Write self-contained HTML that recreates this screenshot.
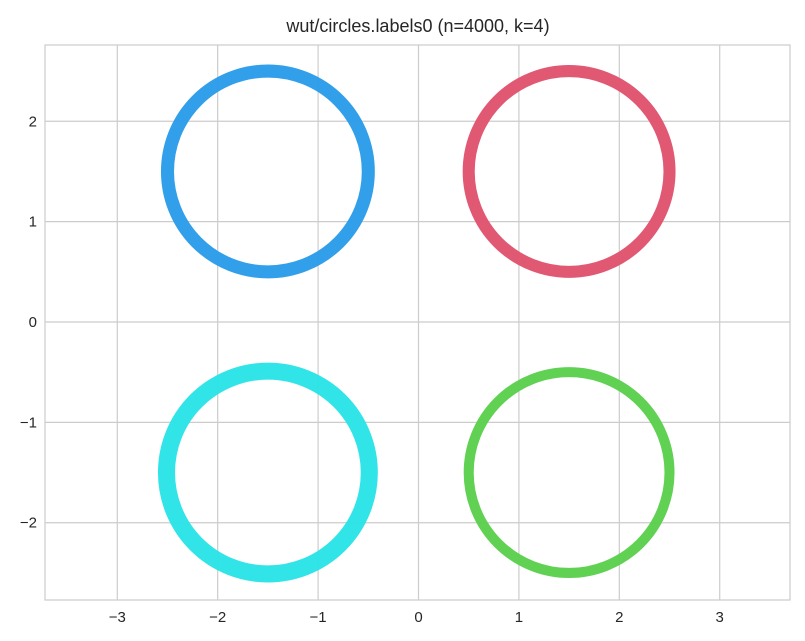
<!DOCTYPE html>
<html><head><meta charset="utf-8">
<style>
body{margin:0;background:#fff;}
svg{display:block;font-family:"Liberation Sans",sans-serif;}
</style></head>
<body>
<svg id="chart" width="805" height="641">
<rect x="0" y="0" width="805" height="641" fill="#fff"/>
<text x="418" y="32" text-anchor="middle" font-size="18" fill="#262626">wut/circles.labels0 (n=4000, k=4)</text>
<g id="grid"></g>
<g id="rings"></g>
<g id="ticks"></g>
<rect x="45" y="45" width="745" height="555" fill="none" stroke="#cccccc" stroke-width="1.2"/>
</svg>
<script>
const clusterNames = ['blue', 'red', 'cyan', 'green'];
const centerX = [-1.5, 1.5, -1.5, 1.5];
const centerY = [1.5, 1.5, -1.5, -1.5];
const radius = [1.0, 1.0, 1.01, 1.0];
const thickness = [0.13, 0.12, 0.17, 0.10];
const colors = ['#2a9ce8', '#e0536e', '#2ae3e6', '#5ccf4e'];
const xTicks = [-3, -2, -1, 0, 1, 2, 3];
const yTicks = [-2, -1, 0, 1, 2];
const xMin = -3.72, xMax = 3.70, yMin = -2.77, yMax = 2.76;
const L = 45, R = 790, T = 45, B = 600;
const sx = v => L + (v - xMin) / (xMax - xMin) * (R - L);
const sy = v => B - (v - yMin) / (yMax - yMin) * (B - T);
const NS = 'http://www.w3.org/2000/svg';
const grid = document.getElementById('grid');
const ticks = document.getElementById('ticks');
const rings = document.getElementById('rings');
function mk(tag, attrs, parent) {
  const e = document.createElementNS(NS, tag);
  for (const k in attrs) e.setAttribute(k, attrs[k]);
  parent.appendChild(e);
  return e;
}
xTicks.forEach(v => {
  const l = mk('line', {x1: sx(v), x2: sx(v), y1: T, y2: B, stroke: '#cccccc', 'stroke-width': 1.2}, grid);
  
  
  const t = mk('text', {x: sx(v), y: B + 22, 'text-anchor': 'middle', 'font-size': 15, fill: '#262626'}, ticks);
  t.textContent = v < 0 ? '\u2212' + Math.abs(v) : String(v);
  
  
});
yTicks.forEach(v => {
  const l = mk('line', {x1: L, x2: R, y1: sy(v), y2: sy(v), stroke: '#cccccc', 'stroke-width': 1.2}, grid);
  
  
  const t = mk('text', {x: L - 8, y: sy(v) + 5, 'text-anchor': 'end', 'font-size': 15, fill: '#262626'}, ticks);
  t.textContent = v < 0 ? '\u2212' + Math.abs(v) : String(v);
  
  
});
const pxPerUnit = (R - L) / (xMax - xMin);
clusterNames.forEach((n, i) => {
  const c = mk('circle', {cx: sx(centerX[i]), cy: sy(centerY[i]), r: radius[i] * pxPerUnit, fill: 'none', stroke: colors[i], 'stroke-width': thickness[i] * pxPerUnit, 'stroke-opacity': 0.97}, rings);
  
  
});
</script>
</body></html>
